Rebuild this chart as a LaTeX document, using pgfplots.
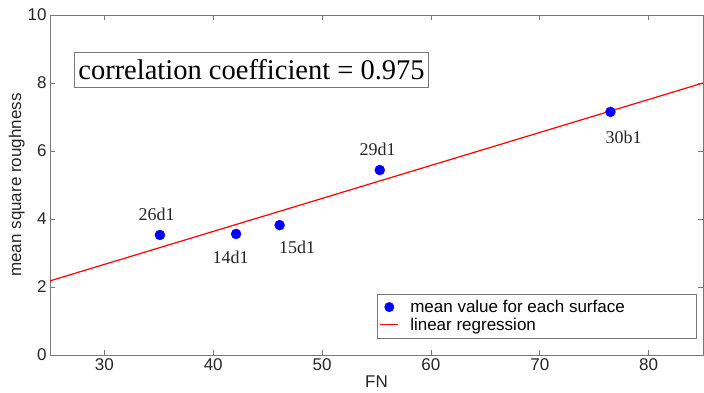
\documentclass[border=0pt]{standalone}
\usepackage{pgfplots}
\pgfplotsset{compat=1.18}
\usepackage{fontspec}
\setmainfont{Liberation Sans}
\newfontfamily\timesf{Liberation Serif}
\definecolor{axgray}{RGB}{120,120,120}
\begin{document}
\begin{tikzpicture}[x=1pt,y=1pt]
\useasboundingbox (-50pt,-37pt) rectangle (654pt,355pt);
\begin{axis}[
  at={(0,0)}, anchor=south west,
  scale only axis, width=653pt, height=340pt,
  xmin=25, xmax=85, ymin=0, ymax=10,
  xtick={30,40,50,60,70,80}, ytick={0,2,4,6,8,10},
  tick align=inside, major tick length=5pt,
  axis line style={axgray, line width=0.8pt},
  every tick/.style={axgray, line width=0.6pt},
  tick label style={font=\fontsize{17}{17}\selectfont, text=black!85},
  /pgf/number format/assume math mode=true,
  xlabel={FN}, ylabel={mean square roughness},
  label style={font=\fontsize{17}{17}\selectfont, text=black!85},
  xlabel style={yshift=2pt},
  ylabel style={yshift=-4pt},
  legend style={at={(0.99,0.05)}, anchor=south east, draw=axgray,
    font=\fontsize{17}{19}\selectfont, inner xsep=2pt, inner ysep=4pt, row sep=0pt,
    cells={anchor=west}},
  legend cell align=left,
]
\addplot[only marks, mark=*, mark size=5pt, color=blue, mark options={fill=blue, draw=blue},
  legend image code/.code={\fill[blue,draw=none] (9pt,0pt) circle (5pt); \path[draw=none,fill=none] (0pt,0pt) -- (28pt,0pt);}]
  coordinates {(35.1,3.53) (42.1,3.56) (46.1,3.82) (55.3,5.44) (76.5,7.15)};
\addlegendentry{\makebox[282pt][l]{mean value for each surface}}
\addplot[red, line width=1.2pt,
  legend image code/.code={\draw[red, line width=1.2pt] (0pt,0pt) -- (18pt,0pt); \path[draw=none,fill=none] (0pt,0pt) -- (28pt,0pt);}]
  coordinates {(25,2.18) (85,8.0)};
\addlegendentry{linear regression}
\node[draw=axgray, anchor=north west, font=\timesf\fontsize{28.5}{28.5}\selectfont, inner xsep=4pt, inner ysep=7pt, fill=white]
  at (rel axis cs:0.037,0.891) {correlation coefficient = 0.975};
\begin{scope}[every node/.style={font=\timesf\fontsize{18}{18}\selectfont, text=black!85}]
\node at (axis cs:34.8,4.15) {26d1};
\node at (axis cs:41.6,2.88) {14d1};
\node at (axis cs:47.7,3.17) {15d1};
\node at (axis cs:55.1,6.05) {29d1};
\node at (axis cs:77.7,6.4) {30b1};
\end{scope}
\end{axis}
\end{tikzpicture}
\end{document}
